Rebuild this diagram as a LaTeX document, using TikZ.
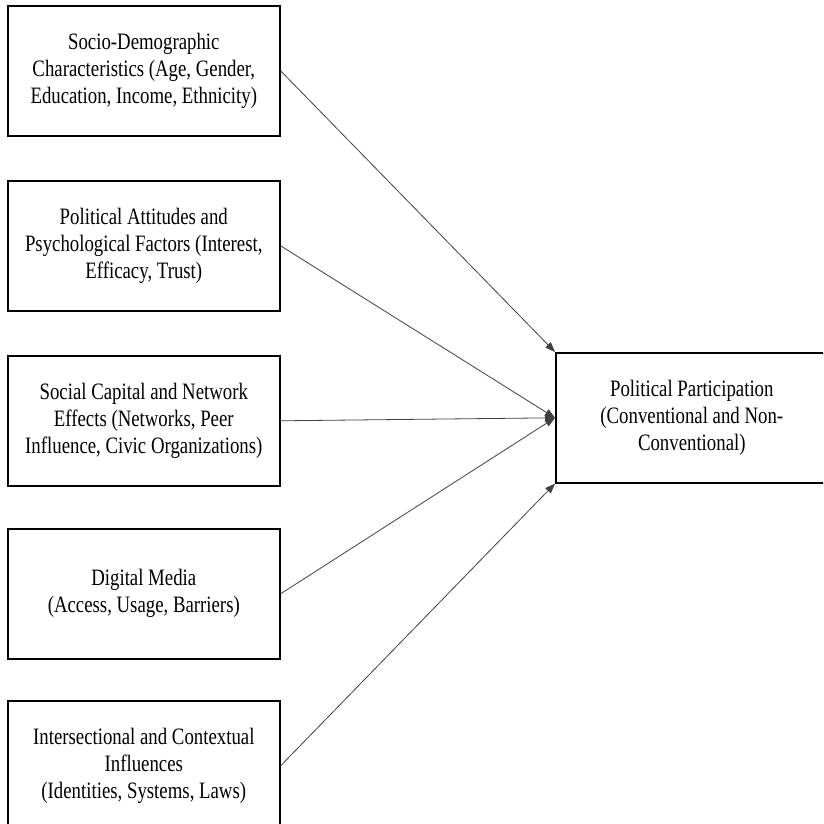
\documentclass[tikz,border=0pt]{standalone}
\usepackage{fontspec}
\setmainfont{Liberation Serif}
\newfontfamily\boxfont[FakeStretch=0.8]{Liberation Serif}
\usetikzlibrary{arrows.meta}
\tikzset{
  box/.style={draw=black, line width=1.6pt, minimum width=272pt, minimum height=130pt,
    inner sep=0pt, align=center, anchor=north west, font=\boxfont\fontsize{23.5}{27}\selectfont},
  conn/.style={draw=black!75, line width=0.8pt, -{Triangle[length=10pt,width=7.5pt]}}
}
\begin{document}
\begin{tikzpicture}[x=1pt,y=1pt]
\useasboundingbox (0,0) rectangle (823,-824);
\clip (0,0) rectangle (823,-824);
\node[box] (b1) at (7,-5) {Socio-Demographic\\Characteristics (Age, Gender,\\Education, Income, Ethnicity)};
\node[box] (b2) at (7,-180) {Political Attitudes and\\Psychological Factors (Interest,\\Efficacy, Trust)};
\node[box] (b3) at (7,-355) {Social Capital and Network\\Effects (Networks, Peer\\Influence, Civic Organizations)};
\node[box] (b4) at (7,-528) {Digital Media\\(Access, Usage, Barriers)};
\node[box] (b5) at (7,-700) {Intersectional and Contextual\\Influences\\(Identities, Systems, Laws)};
\node[box] (pp) at (555,-352) {Political Participation\\(Conventional and Non-\\Conventional)};
\draw[conn] (b1.east) -- (pp.north west);
\draw[conn] (b2.east) -- (pp.west);
\draw[conn] (b3.east) -- (pp.west);
\draw[conn] (b4.east) -- (pp.west);
\draw[conn] (b5.east) -- (pp.south west);
\end{tikzpicture}
\end{document}
